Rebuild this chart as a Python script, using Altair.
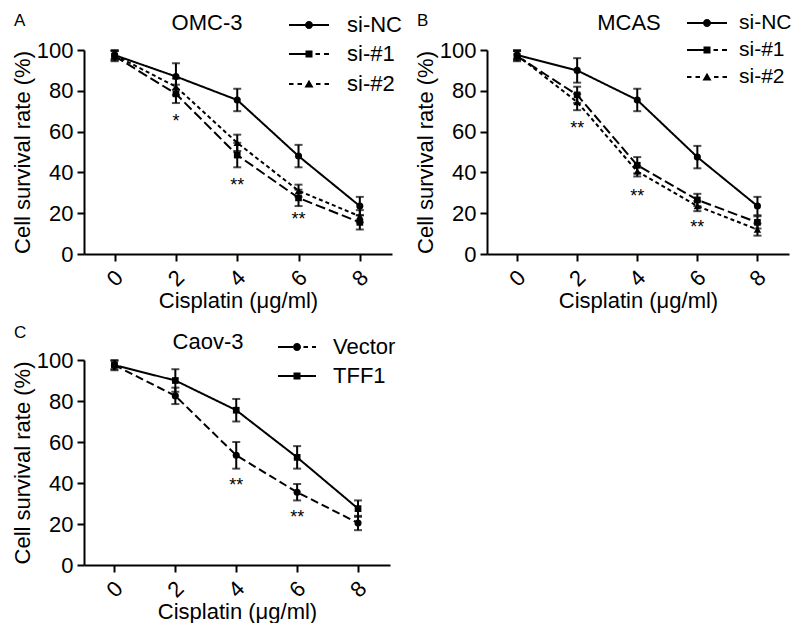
import altair as alt
import pandas as pd

FONT = "Liberation Sans"

doses = [0, 2, 4, 6, 8]
y_ticks = [0, 20, 40, 60, 80, 100]
x_title = "Cisplatin (μg/ml)"
y_title = "Cell survival rate (%)"

# ---- Panel A : OMC-3 ----
a_letter = "A"
a_title = "OMC-3"
a_series = ["si-NC", "si-#1", "si-#2"]
a_nc = [97.5, 87.0, 75.5, 48.0, 23.5]
a_nc_err = [2.0, 6.5, 5.5, 5.5, 4.5]
a_s1 = [97.0, 78.5, 48.5, 27.5, 15.5]
a_s1_err = [2.5, 4.5, 6.0, 4.0, 3.5]
a_s2 = [97.5, 82.0, 54.5, 31.0, 18.5]
a_s2_err = [2.5, 4.0, 4.0, 3.0, 3.0]
a_star_x = [2, 4, 6]
a_star_y = [66.5, 35.5, 18.5]
a_star_t = ["*", "**", "**"]

# ---- Panel B : MCAS ----
b_letter = "B"
b_title = "MCAS"
b_series = ["si-NC", "si-#1", "si-#2"]
b_nc = [97.5, 90.0, 75.5, 47.5, 23.5]
b_nc_err = [2.0, 6.0, 5.5, 5.5, 4.5]
b_s1 = [97.0, 78.0, 43.5, 26.5, 15.5]
b_s1_err = [2.5, 4.0, 4.0, 3.0, 3.0]
b_s2 = [97.5, 74.5, 40.5, 23.5, 12.0]
b_s2_err = [2.5, 4.0, 2.5, 2.5, 3.0]
b_star_x = [2, 4, 6]
b_star_y = [63.0, 30.0, 14.5]
b_star_t = ["**", "**", "**"]

# ---- Panel C : Caov-3 ----
c_letter = "C"
c_title = "Caov-3"
c_series = ["Vector", "TFF1"]
c_vec = [97.5, 82.5, 53.5, 35.5, 20.5]
c_vec_err = [2.5, 4.0, 6.5, 4.0, 3.5]
c_tff = [97.5, 90.0, 75.5, 52.5, 27.5]
c_tff_err = [2.0, 5.5, 5.5, 5.5, 4.0]
c_star_x = [4, 6]
c_star_y = [40.5, 25.0]
c_star_t = ["**", "**"]

X_DOMAIN = [-1.0, 9.05]

# legend glyphs (custom symbol paths: line segments + marker)
P_NC = "M-4,-0.2H4V0.2H-4Z M0.8,0A0.8,0.8,0,1,1,-0.8,0A0.8,0.8,0,1,1,0.8,0Z"
P_S1 = "M-4,-0.2H-0.7V0.2H-4Z M-0.7,-0.7H0.7V0.7H-0.7Z M1.3,-0.2H2.2V0.2H1.3Z M3,-0.2H4V0.2H3Z"
P_S2 = ("M-4,-0.2H-3.1V0.2H-4Z M-2.3,-0.2H-1.4V0.2H-2.3Z M0,-0.85L0.9,0.7H-0.9Z "
        "M1.4,-0.2H2.3V0.2H1.4Z M3.1,-0.2H4V0.2H3.1Z")
P_VEC = ("M-3.8,-0.2H-0.8V0.2H-3.8Z M0.8,0A0.8,0.8,0,1,1,-0.8,0A0.8,0.8,0,1,1,0.8,0Z "
         "M1.3,-0.2H2.2V0.2H1.3Z M3.0,-0.2H3.8V0.2H3.0Z")
P_TFF = "M-3.8,-0.2H3.8V0.2H-3.8Z M-0.7,-0.7H0.7V0.7H-0.7Z"


def long_df(series, means, errs):
    rows = []
    for s, m, e in zip(series, means, errs):
        for d, v, err in zip(doses, m, e):
            rows.append({"series": s, "dose": d, "rate": v, "lo": v - err, "hi": v + err})
    return pd.DataFrame(rows)


def legend_layers(series, paths, sym_x, lab_x, rows_y, fs):
    out = []
    for s, p, ly in zip(series, paths, rows_y):
        d = pd.DataFrame({"s": [s]})
        out.append(alt.Chart(d).mark_point(shape=p, size=100, filled=True, color="black",
                                           opacity=1, strokeWidth=0)
                   .encode(x=alt.value(sym_x), y=alt.value(ly)))
        out.append(alt.Chart(d).mark_text(align="left", baseline="middle", fontSize=fs,
                                          font=FONT, color="black")
                   .encode(x=alt.value(lab_x), y=alt.value(ly), text="s:N"))
    return out


def panel(letter, letter_pos, title, title_pos, series, means, errs, shapes, sizes,
          dashes, leg_paths, leg_x, leg_rows, leg_fs, sx, sy, st, width, height):
    df = long_df(series, means, errs)
    x_enc = alt.X("dose:Q", scale=alt.Scale(domain=X_DOMAIN, nice=False, zero=False),
                  axis=alt.Axis(values=doses, title=x_title, labelAngle=-45,
                                labelAlign="center", labelBaseline="middle",
                                labelPadding=17, titlePadding=0))
    y_enc = alt.Y("rate:Q", scale=alt.Scale(domain=[0, 100], nice=False),
                  axis=alt.Axis(values=y_ticks, title=y_title, labelPadding=4,
                                titlePadding=2))
    base = alt.Chart(df)
    lines = base.mark_line(color="black", strokeWidth=2).encode(
        x=x_enc, y=y_enc,
        strokeDash=alt.StrokeDash("series:N", scale=alt.Scale(domain=series, range=dashes),
                                  legend=None))
    bars = base.mark_rule(color="black", strokeWidth=2).encode(
        x="dose:Q", y="lo:Q", y2="hi:Q")
    cap_hi = base.mark_tick(color="black", orient="horizontal", size=8, thickness=2).encode(
        x="dose:Q", y="hi:Q")
    cap_lo = base.mark_tick(color="black", orient="horizontal", size=8, thickness=2).encode(
        x="dose:Q", y="lo:Q")
    pts = [base.transform_filter(alt.datum.series == s)
           .mark_point(filled=True, opacity=1, color="black", shape=shp, size=sz)
           .encode(x="dose:Q", y="rate:Q")
           for s, shp, sz in zip(series, shapes, sizes)]
    leg = legend_layers(series, leg_paths, leg_x[0], leg_x[1], leg_rows, leg_fs)
    stars = alt.Chart(pd.DataFrame({"dose": sx, "rate": sy, "t": st})).mark_text(
        fontSize=18, font=FONT, dy=4, color="black").encode(x="dose:Q", y="rate:Q", text="t:N")
    ttl = alt.Chart(pd.DataFrame({"t": [title]})).mark_text(
        fontSize=22, font=FONT, align="center", baseline="middle", color="black").encode(
        x=alt.value(title_pos[0]), y=alt.value(title_pos[1]), text="t:N")
    let = alt.Chart(pd.DataFrame({"t": [letter]})).mark_text(
        fontSize=17, font=FONT, align="left", baseline="middle", color="black").encode(
        x=alt.value(letter_pos[0]), y=alt.value(letter_pos[1]), text="t:N")
    return alt.layer(lines, bars, cap_hi, cap_lo, *pts, *leg, stars, ttl, let).properties(
        width=width, height=height)


A = panel(a_letter, (-70, -29), a_title, (123, -27), a_series,
          [a_nc, a_s1, a_s2], [a_nc_err, a_s1_err, a_s2_err],
          ["circle", "square", "triangle-up"], [50, 45, 55],
          [[1, 0], [10, 4], [4, 3]], [P_NC, P_S1, P_S2], (225, 263), [-25, 4, 34], 22,
          a_star_x, a_star_y, a_star_t, 308, 204)
B = panel(b_letter, (-70, -29), b_title, (142, -27), b_series,
          [b_nc, b_s1, b_s2], [b_nc_err, b_s1_err, b_s2_err],
          ["circle", "square", "triangle-up"], [50, 45, 55],
          [[1, 0], [10, 4], [4, 3]], [P_NC, P_S1, P_S2], (220, 252), [-27, 0, 27], 21,
          b_star_x, b_star_y, b_star_t, 302, 204)
C = panel(c_letter, (-70, -27), c_title, (124, -18), c_series,
          [c_vec, c_tff], [c_vec_err, c_tff_err],
          ["circle", "square"], [50, 45],
          [[8, 4], [1, 0]], [P_VEC, P_TFF], (213, 249), [-13, 16], 22,
          c_star_x, c_star_y, c_star_t, 306, 205)

chart = alt.vconcat(
    alt.hconcat(A, B, spacing=12).resolve_scale(strokeDash="independent"),
    C, spacing=12
).resolve_scale(strokeDash="independent").properties(
    padding={"left": 3, "top": 4, "right": 0, "bottom": 0}, background="white"
).configure_view(stroke=None).configure_axis(
    domainColor="black", domainWidth=2, tickColor="black", tickWidth=2, tickSize=7,
    labelFontSize=22, titleFontSize=22, titleFontWeight="normal", labelColor="black",
    titleColor="black", labelFont=FONT, titleFont=FONT, grid=False
)

chart.save("out.html", embed_options={"renderer": "svg", "actions": False})
